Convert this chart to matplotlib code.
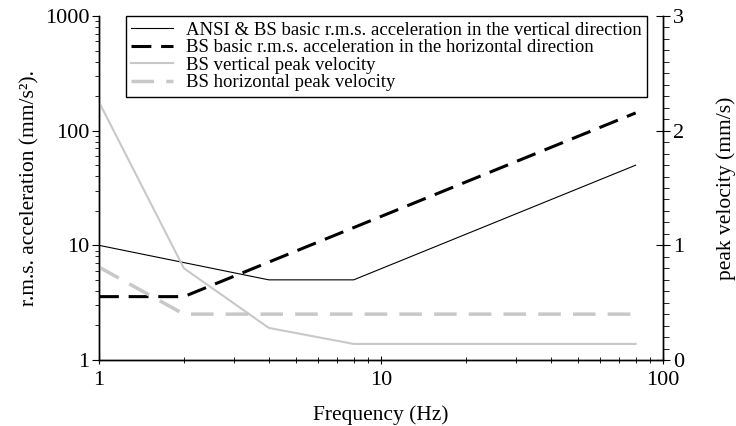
"""Vibration criteria: r.m.s. acceleration and peak velocity vs frequency."""

import matplotlib

matplotlib.use("Agg")
import matplotlib.pyplot as plt
from matplotlib.ticker import FixedLocator, FuncFormatter, MultipleLocator

plt.rcParams["font.family"] = ["Liberation Serif", "DejaVu Serif"]

# left axis: r.m.s. acceleration (mm/s^2)
freq_vert_acc = [1, 4, 8, 80]
vert_acc = [10.0, 5.0, 5.0, 50.0]
freq_horiz_acc = [1, 2, 80]
horiz_acc = [3.57, 3.57, 142.8]

# right axis: peak velocity (mm/s)
freq_vert_vel = [1, 2, 4, 8, 80]
vert_vel = [2.25, 0.80, 0.28, 0.14, 0.14]
freq_horiz_vel = [1, 2, 80]
horiz_vel = [0.81, 0.40, 0.40]

labels = [
    "ANSI & BS basic r.m.s. acceleration in the vertical direction",
    "BS basic r.m.s. acceleration in the horizontal direction",
    "BS vertical peak velocity",
    "BS horizontal peak velocity",
]
light = "#c8c8c8"

fig = plt.figure(figsize=(7.36, 4.26), dpi=100)
ax = fig.add_axes([99 / 736, 1 - 360 / 426, (663 - 99) / 736, (360 - 16) / 426])
ax2 = ax.twinx()

l1, = ax.plot(freq_vert_acc, vert_acc, color="black", lw=0.8)
l2, = ax.plot(freq_horiz_acc, horiz_acc, color="black", lw=2.2, dashes=(6.5, 3.2))
l3, = ax2.plot(freq_vert_vel, vert_vel, color=light, lw=1.5)
l4, = ax2.plot(freq_horiz_vel, horiz_vel, color=light, lw=2.5, dashes=(6.5, 3.5))

ax.set_xscale("log")
ax.set_yscale("log")
ax.set_xlim(1, 100)
ax.set_ylim(1, 1000)
ax2.set_ylim(0, 3)

plain = FuncFormatter(lambda v, _: f"{v:g}")
ax.xaxis.set_major_formatter(plain)
ax.yaxis.set_major_formatter(plain)
ax.xaxis.set_minor_formatter(FuncFormatter(lambda v, _: ""))
ax.yaxis.set_minor_formatter(FuncFormatter(lambda v, _: ""))
ax2.yaxis.set_major_locator(FixedLocator([0, 1, 2, 3]))
ax2.yaxis.set_minor_locator(MultipleLocator(0.1))

for a in (ax, ax2):
    a.spines["top"].set_visible(False)
    for s in a.spines.values():
        s.set_linewidth(1.0)
ax.tick_params(axis="y", which="major", direction="out", length=5, labelsize=16, pad=2)
ax.tick_params(axis="y", which="minor", direction="out", length=3)
ax.tick_params(axis="x", which="major", direction="inout", length=6, labelsize=16, pad=5)
ax.tick_params(axis="x", which="minor", direction="inout", length=4)
ax2.tick_params(axis="y", which="major", direction="inout", length=10, labelsize=16, pad=2)
ax2.tick_params(axis="y", which="minor", direction="out", length=4)

ax.set_xlabel("Frequency (Hz)", fontsize=15.5, labelpad=11)
ax.set_ylabel("r.m.s. acceleration (mm/s²).", fontsize=15.5, labelpad=4)
ax2.set_ylabel("peak velocity (mm/s)", fontsize=15.5, labelpad=23)

leg = ax2.legend(
    [l1, l2, l3, l4],
    labels,
    loc="upper right",
    bbox_to_anchor=(647 / 736, 1 - 16 / 426),
    bbox_transform=fig.transFigure,
    fontsize=13.5,
    frameon=True,
    fancybox=False,
    framealpha=1,
    edgecolor="black",
    borderpad=0.3,
    labelspacing=0.02,
    handlelength=2.2,
    handletextpad=0.7,
    borderaxespad=0,
)
leg.get_frame().set_linewidth(1.0)

fig.savefig("out.png", dpi=100)
